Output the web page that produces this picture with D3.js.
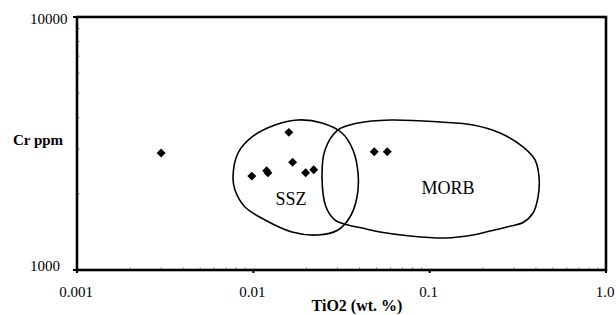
<!DOCTYPE html>
<html>
<head>
<meta charset="utf-8">
<script src="https://cdn.jsdelivr.net/npm/d3@7"></script>
<style>
  body { margin: 0; background: #fff; }
</style>
</head>
<body>
<div id="chart"></div>
<script>
// sample points
var tio2 = [0.0030, 0.0159, 0.0098, 0.0119, 0.0121, 0.0167, 0.0198, 0.0220, 0.0485, 0.0575];
var crPpm = [2900, 3500, 2350, 2470, 2420, 2665, 2425, 2490, 2935, 2935];

// discrimination field outlines (TiO2 wt.%, Cr ppm)
var sszTiO2 = [0.00767, 0.00819, 0.00983, 0.01327, 0.01792, 0.02452, 0.03184, 0.03674, 0.03924,
               0.03873, 0.03533, 0.03021, 0.02326, 0.01657, 0.01165, 0.00897, 0.00787];
var sszCr = [2331, 2900, 3356, 3743, 3917, 3811, 3480, 2981, 2418,
             1943, 1620, 1439, 1375, 1413, 1576, 1774, 2071];
var morbTiO2 = [0.02452, 0.02550, 0.03021, 0.03924, 0.05957, 0.1145, 0.1761, 0.2506, 0.3382, 0.3958,
                0.4170, 0.4116, 0.3855, 0.3382, 0.2746, 0.2199, 0.1761, 0.1222, 0.07735, 0.05231,
                0.04133, 0.03443, 0.02905, 0.02584];
var morbCr = [2331, 2981, 3576, 3811, 3917, 3846, 3743, 3480, 3064, 2722,
              2331, 1943, 1680, 1540, 1480, 1425, 1375, 1338, 1363, 1413,
              1466, 1506, 1576, 1774];

var fieldNames = ["SSZ", "MORB"];
var fieldLabelTiO2 = [0.01635, 0.127];
var fieldLabelCr = [1807, 1997];

var xTicks = [0.001, 0.01, 0.1, 1];
var xTickLabels = ["0.001", "0.01", "0.1", "1.0"];
var yTicks = [1000, 10000];
var yTickLabels = ["1000", "10000"];

var width = 616, height = 315;
var margin = {left: 77, top: 17, right: 10, bottom: 45};
var serif = '"Liberation Serif", "Tinos", "Times New Roman", Times, "DejaVu Serif", serif';

var svg = d3.select("#chart").append("svg")
    .attr("width", width)
    .attr("height", height)
    .attr("font-family", serif);

var x = d3.scaleLog().domain([0.001, 1]).range([margin.left, width - margin.right]);
var y = d3.scaleLog().domain([1000, 10000]).range([height - margin.bottom, margin.top]);

// minor ticks (grey, inside the frame)
var minorX = [];
[0.001, 0.01, 0.1].forEach(function(d) {
  for (var k = 2; k <= 9; k++) minorX.push(d * k);
});
var minorY = [];
for (var k = 2; k <= 9; k++) minorY.push(1000 * k);

svg.selectAll(".mx").data(minorX).enter().append("line")
    .attr("x1", function(d) { return x(d); })
    .attr("x2", function(d) { return x(d); })
    .attr("y1", y(1000) - 3).attr("y2", y(1000))
    .attr("stroke", "#aaa");

svg.selectAll(".my").data(minorY).enter().append("line")
    .attr("y1", function(d) { return y(d); })
    .attr("y2", function(d) { return y(d); })
    .attr("x1", x(0.001)).attr("x2", x(0.001) + 3)
    .attr("stroke", "#aaa");

// major ticks
svg.selectAll(".tx").data(xTicks).enter().append("line")
    .attr("x1", function(d) { return x(d); })
    .attr("x2", function(d) { return x(d); })
    .attr("y1", y(1000)).attr("y2", y(1000) + 3)
    .attr("stroke", "#000").attr("stroke-width", 2);

svg.selectAll(".ty").data(yTicks).enter().append("line")
    .attr("y1", function(d) { return y(d); })
    .attr("y2", function(d) { return y(d); })
    .attr("x1", x(0.001) - 4).attr("x2", x(0.001))
    .attr("stroke", "#000").attr("stroke-width", 2);

// frame
svg.append("rect")
    .attr("x", x(0.001)).attr("y", y(10000))
    .attr("width", x(1) - x(0.001))
    .attr("height", y(1000) - y(10000))
    .attr("fill", "none")
    .attr("stroke", "#000")
    .attr("stroke-width", 2.6);

// tick labels
svg.selectAll(".xl").data(xTicks).enter().append("text")
    .attr("x", function(d) { return x(d) - 1; })
    .attr("y", 297)
    .attr("text-anchor", "middle")
    .style("font-size", "15px")
    .text(function(d, i) { return xTickLabels[i]; });

svg.selectAll(".yl").data(yTicks).enter().append("text")
    .attr("x", 30)
    .attr("y", function(d) { return y(d) + (d === 1000 ? 1 : 6.5); })
    .style("font-size", "15px")
    .text(function(d, i) { return yTickLabels[i]; });

// axis titles
svg.append("text")
    .attr("x", 357).attr("y", 311)
    .attr("text-anchor", "middle")
    .style("font-size", "16px").style("font-weight", "bold")
    .text("TiO2 (wt. %)");

svg.append("text")
    .attr("x", 38).attr("y", 145)
    .attr("text-anchor", "middle")
    .style("font-size", "15px").style("font-weight", "bold")
    .text("Cr ppm");

// field outlines
var outline = d3.line()
    .x(function(d) { return x(d[0]); })
    .y(function(d) { return y(d[1]); })
    .curve(d3.curveCatmullRomClosed.alpha(0.5));

var fields = [d3.zip(sszTiO2, sszCr), d3.zip(morbTiO2, morbCr)];
svg.selectAll(".field").data(fields).enter().append("path")
    .attr("d", outline)
    .attr("fill", "none")
    .attr("stroke", "#000")
    .attr("stroke-width", 1.6);

svg.selectAll(".fl").data(fieldNames).enter().append("text")
    .attr("x", function(d, i) { return x(fieldLabelTiO2[i]); })
    .attr("y", function(d, i) { return y(fieldLabelCr[i]); })
    .attr("text-anchor", "middle")
    .style("font-size", "18px")
    .text(function(d) { return d; });

// points
var diamond = d3.symbol().type(d3.symbolSquare).size(40);
svg.selectAll(".pt").data(d3.zip(tio2, crPpm)).enter().append("path")
    .attr("d", diamond)
    .attr("transform", function(d) { return "translate(" + x(d[0]) + "," + y(d[1]) + ") rotate(45)"; })
    .attr("fill", "#000");
</script>
</body>
</html>
